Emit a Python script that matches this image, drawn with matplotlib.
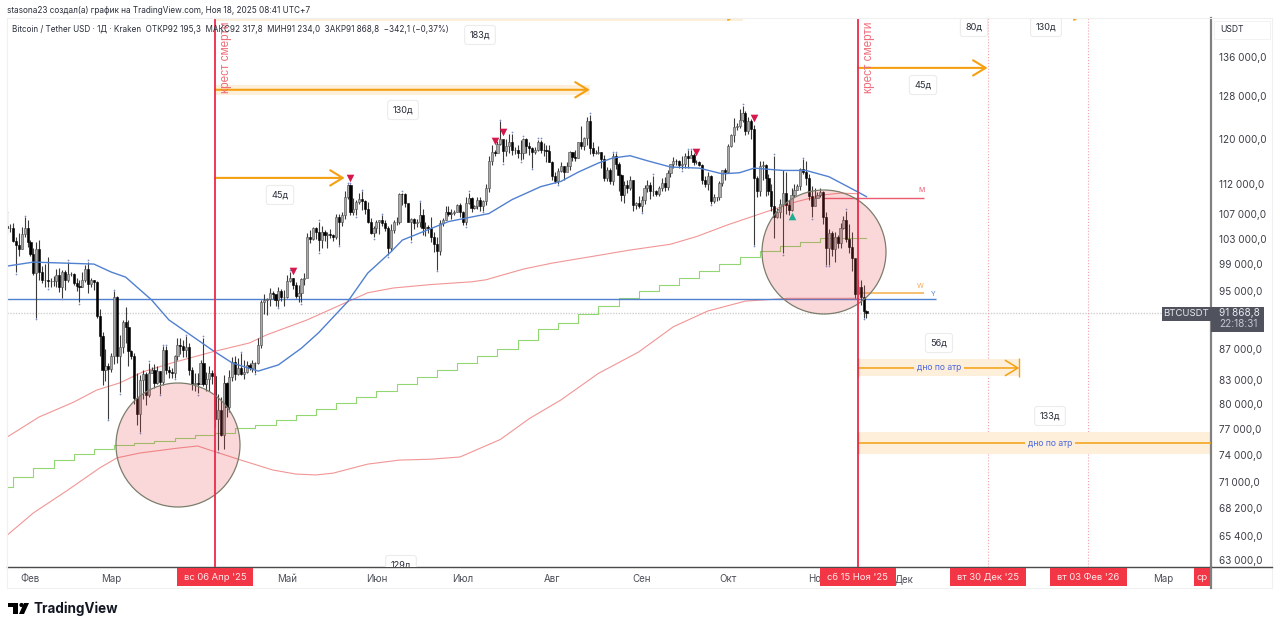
import matplotlib
matplotlib.use('Agg')
import matplotlib.pyplot as plt
import numpy as np
from matplotlib.patches import Circle, Rectangle, Polygon
from matplotlib.lines import Line2D
from matplotlib.ticker import NullLocator
from matplotlib.transforms import Affine2D

plt.rcParams['font.family'] = ['Inter', 'DejaVu Sans']

# daily candles, thousands of USDT, day 0 = 24 Jan 2025
first_open = 105.0
closes = [
    104.7, 104.7, 102.6, 102.0, 101.3, 103.7, 104.7, 102.4,
    100.6, 97.7, 101.4, 97.9, 96.6, 96.6, 96.5, 96.5, 96.5, 97.4, 95.7, 97.9, 96.6, 97.5, 97.6, 96.2,
    95.8, 95.6, 96.6, 98.3, 96.1, 96.6, 96.3, 91.5, 88.7, 84.3, 84.7, 84.4,
    86.0, 94.2, 86.1, 87.2, 90.6, 89.9, 86.7, 86.1, 80.7, 78.7, 82.9, 83.7, 81.1, 83.9, 84.3, 82.6,
    84.1, 82.7, 86.8, 84.2, 84.0, 83.8, 86.0, 87.5, 87.4, 86.9, 87.2, 84.3, 82.4, 82.6, 82.5,
    85.2, 82.5, 83.1, 83.8, 83.5, 78.2, 79.2, 76.3, 82.6, 79.6, 83.4, 85.3, 83.7, 84.5, 83.7, 84.0,
    84.9, 84.5, 85.1, 85.2, 87.5, 93.4, 93.7, 93.9, 94.7, 94.6, 93.7, 95.0, 94.2, 94.2,
    96.5, 96.9, 95.9, 94.3, 94.7, 96.8, 97.0, 103.2, 102.9, 104.6, 104.1, 102.8, 104.1, 103.5, 103.7,
    103.5, 103.2, 106.5, 105.6, 106.8, 109.7, 111.7, 107.3, 107.8, 108.9, 109.4, 109.0, 107.8, 105.6, 103.9, 104.6,
    105.7, 105.9, 105.4, 104.7, 101.5, 104.3, 105.6, 105.7, 110.3, 110.2, 108.7, 105.7, 106.1, 105.5, 105.6,
    106.8, 104.6, 104.9, 104.7, 103.3, 102.1, 101.0, 105.4, 106.0, 107.3, 106.9, 107.1, 107.3, 108.4, 107.2,
    105.7, 108.8, 109.6, 108.0, 108.2, 109.2, 108.3, 109.0, 111.3, 116.0, 117.5, 117.4, 119.1, 120.0, 117.7,
    118.7, 119.3, 117.9, 117.9, 117.3, 117.4, 119.9, 118.6, 118.3, 117.6, 117.9, 119.4, 118.0, 117.9, 117.8, 115.8,
    113.3, 112.5, 114.2, 115.1, 114.1, 115.0, 117.5, 116.7, 116.5, 119.3, 118.7, 120.2, 123.3, 118.3, 117.4,
    117.4, 117.5, 116.3, 112.9, 114.3, 112.5, 116.9, 115.4, 113.5, 110.1, 111.8, 111.2, 112.6, 108.4, 108.8, 108.2,
    109.2, 111.2, 111.7, 110.7, 110.7, 110.2, 111.2, 112.1, 111.5, 113.9, 115.5, 116.0, 115.9, 115.3, 115.4,
    116.8, 116.5, 117.1, 115.7, 115.7, 115.3, 112.7, 112.0, 113.3, 109.0, 109.7, 109.7, 112.1, 114.4, 114.0,
    118.6, 120.6, 122.2, 122.4, 123.5, 124.8, 121.4, 123.3, 121.7, 113.0, 110.8, 115.1, 115.3, 113.0, 110.8, 108.2,
    106.5, 107.2, 108.6, 110.5, 108.4, 107.6, 110.1, 111.0, 111.6, 114.5, 114.1, 112.9, 110.0, 108.3, 109.6,
    110.1, 110.6, 106.5, 101.5, 103.9, 101.3, 103.3, 102.3, 104.7, 106.0, 103.0, 101.7, 100.0, 94.6, 95.6, 94.2, 92.2, 91.869,
]
highs = [
    107.1, 105.3, 105.4, 103.2, 103.8, 104.8, 106.4, 106.0,
    102.8, 101.5, 102.5, 102.7, 98.8, 99.0, 100.1, 97.0, 97.3, 98.3, 98.5, 98.1, 98.1, 99.4, 97.9, 97.7,
    97.0, 96.7, 97.9, 98.9, 99.4, 96.9, 96.6, 96.5, 92.5, 89.3, 87.0, 85.1,
    86.5, 95.0, 94.4, 88.9, 91.0, 92.7, 91.0, 86.9, 86.4, 83.9, 83.6, 84.3, 84.0, 85.2, 84.6, 85.0,
    84.7, 84.1, 87.4, 87.4, 84.8, 84.5, 86.2, 88.5, 88.5, 88.2, 88.7, 87.8, 84.6, 83.8, 83.9,
    85.5, 88.5, 84.0, 84.7, 84.2, 83.8, 81.2, 80.8, 83.6, 82.7, 84.2, 85.9, 86.1, 85.8, 86.4, 85.5,
    85.4, 85.1, 85.6, 85.3, 88.5, 93.8, 94.6, 94.0, 95.5, 95.0, 94.4, 95.6, 95.4, 95.2,
    97.4, 97.9, 97.0, 96.3, 95.9, 97.0, 97.7, 103.8, 104.3, 104.9, 104.9, 105.7, 105.0, 104.3, 104.1,
    104.5, 103.7, 107.0, 107.0, 107.3, 110.7, 111.9, 111.9, 109.5, 109.3, 110.4, 110.7, 109.3, 108.9, 106.3, 105.0,
    105.9, 106.0, 106.8, 106.0, 105.0, 105.3, 106.0, 106.4, 110.4, 110.5, 110.4, 108.5, 106.2, 106.2, 106.1,
    108.9, 107.7, 105.6, 105.2, 106.5, 104.0, 103.3, 106.0, 106.3, 108.2, 108.3, 107.8, 107.6, 108.5, 108.8,
    107.5, 109.8, 110.5, 109.8, 108.4, 109.7, 109.8, 109.2, 111.9, 116.8, 118.9, 118.0, 119.5, 123.2, 119.6,
    120.0, 120.9, 120.9, 118.5, 118.9, 119.7, 120.2, 120.1, 119.4, 118.4, 118.5, 119.8, 119.8, 119.2, 118.8, 118.9,
    116.0, 114.0, 114.8, 115.7, 115.1, 115.7, 117.8, 117.6, 117.9, 119.3, 122.3, 120.3, 124.0, 124.5, 119.3,
    118.0, 118.6, 117.6, 117.0, 114.9, 114.8, 117.4, 117.4, 115.7, 113.7, 112.4, 112.7, 113.4, 112.7, 108.9, 110.0,
    109.9, 111.7, 112.6, 112.3, 113.4, 111.0, 111.6, 112.9, 113.2, 114.3, 115.4, 116.7, 116.3, 116.1, 116.8,
    117.3, 117.9, 117.9, 117.4, 116.2, 116.0, 115.4, 113.4, 114.0, 113.5, 110.3, 109.8, 112.4, 114.4, 114.8,
    119.0, 120.9, 123.9, 122.9, 125.6, 126.2, 125.1, 124.1, 123.7, 122.5, 113.4, 115.9, 116.0, 115.5, 113.6, 111.9,
    116.9, 107.9, 109.4, 114.3, 114.0, 109.2, 111.2, 112.0, 111.9, 114.8, 116.3, 116.0, 113.6, 111.6, 111.2,
    110.6, 111.3, 110.8, 107.3, 104.5, 104.2, 104.0, 103.6, 105.4, 106.6, 107.5, 105.3, 104.0, 99.0, 96.8, 96.6, 96.0, 92.318,
]
lows = [
    103.7, 104.1, 102.5, 97.8, 100.3, 101.3, 103.3, 101.6,
    100.3, 97.4, 91.2, 96.7, 96.2, 95.7, 95.6, 95.7, 95.8, 95.7, 94.9, 94.1, 95.2, 96.3, 97.2, 96.0,
    95.0, 93.4, 95.6, 96.4, 94.8, 95.7, 95.2, 91.2, 86.1, 82.3, 82.8, 78.2,
    84.0, 85.0, 85.1, 81.4, 86.4, 87.8, 84.7, 85.7, 80.0, 77.4, 76.6, 80.6, 79.9, 80.8, 83.9, 81.9,
    82.5, 81.2, 82.3, 83.7, 83.2, 83.2, 83.2, 85.5, 86.3, 85.9, 85.9, 83.6, 81.7, 81.6, 81.3,
    82.4, 82.2, 81.6, 81.6, 82.4, 77.2, 74.5, 76.2, 74.6, 78.4, 79.0, 82.8, 83.0, 83.6, 83.6, 83.1,
    83.9, 84.2, 84.0, 83.9, 85.0, 87.1, 91.8, 91.7, 92.9, 93.9, 92.9, 92.8, 93.6, 92.9,
    94.1, 96.3, 95.3, 94.0, 93.5, 93.4, 95.9, 97.3, 102.3, 102.7, 103.0, 101.0, 101.5, 102.6, 101.5,
    103.1, 102.6, 103.0, 102.0, 105.0, 106.1, 109.4, 106.8, 106.8, 106.7, 108.6, 107.6, 106.9, 105.4, 103.7, 103.2,
    103.8, 103.7, 105.0, 104.2, 100.4, 101.1, 103.9, 105.1, 105.3, 108.4, 108.1, 105.6, 102.7, 104.5, 104.9,
    104.9, 103.5, 103.4, 103.9, 102.4, 100.9, 98.2, 100.4, 105.0, 105.9, 106.6, 106.1, 106.8, 107.2, 106.5,
    105.2, 105.1, 108.6, 107.3, 107.8, 107.8, 107.5, 107.5, 108.4, 110.6, 115.2, 116.9, 117.3, 118.9, 115.7,
    116.9, 117.4, 117.0, 117.2, 116.5, 116.1, 116.3, 117.3, 117.1, 114.7, 117.2, 117.8, 117.4, 116.9, 115.8, 115.7,
    112.7, 112.1, 112.0, 114.1, 112.7, 114.3, 114.3, 115.9, 115.9, 116.5, 118.1, 117.9, 118.9, 117.2, 116.8,
    117.2, 117.2, 114.7, 112.4, 112.4, 111.9, 111.7, 114.6, 110.7, 109.0, 108.8, 110.4, 110.9, 107.4, 107.7, 108.0,
    107.3, 108.6, 110.6, 109.4, 110.0, 109.9, 110.0, 110.7, 110.7, 110.9, 113.2, 114.8, 115.2, 114.7, 114.5,
    114.7, 114.7, 116.7, 115.2, 115.4, 115.0, 111.9, 111.5, 111.0, 108.6, 108.7, 109.0, 109.2, 111.6, 112.7,
    113.9, 118.5, 119.3, 121.6, 122.0, 123.1, 120.6, 120.9, 119.9, 102.0, 109.7, 109.9, 112.7, 109.9, 110.1, 107.5,
    103.1, 106.3, 106.2, 100.7, 107.0, 106.7, 107.5, 109.7, 110.9, 111.0, 113.7, 111.8, 109.2, 106.4, 108.3,
    109.5, 109.7, 105.3, 98.9, 98.9, 100.3, 99.3, 101.5, 101.5, 104.5, 102.5, 100.8, 98.0, 94.0, 94.6, 93.0, 91.2, 91.234,
]

# moving averages: day, value
blue_days = [0, 9, 30, 36, 41, 50, 56, 71, 78, 87, 94, 102, 108, 118, 125, 133, 137, 147, 153, 167, 175, 185,
             192, 198, 205, 210, 216, 222, 230, 240, 248, 254, 259, 269, 277, 285, 295, 298]
blue_vals = [98.75, 99.35, 99.05, 97.85, 97.1, 93.77, 90.95, 86.86, 85.15, 84.1, 84.9, 87.1, 89.2, 93.5, 97.7,
             100.9, 102.75, 104.6, 105.7, 107.0, 109.3, 111.5, 112.4, 114.0, 115.6, 116.5, 116.9, 116.0, 114.9,
             114.7, 113.7, 113.9, 114.7, 114.3, 114.3, 113.2, 110.6, 109.8]
red_days = [0, 11, 23, 31, 39, 47, 57, 71, 84, 90, 104, 118, 125, 134, 147, 161, 166, 179, 189, 204, 216, 230,
            239, 250, 262, 274, 283, 289, 295]
red_vals = [76.05, 78.4, 80.2, 81.7, 82.6, 84.0, 85.15, 86.6, 87.8, 88.9, 90.95, 93.5, 94.8, 95.5, 96.0, 96.4,
            96.7, 98.3, 99.2, 100.3, 101.2, 102.1, 103.3, 105.2, 107.1, 109.0, 110.1, 110.4, 110.3]
low_red_days = [0, 9, 21, 32, 38, 46, 59, 66, 71, 81, 92, 100, 107, 113, 125, 136, 147, 157, 171, 181, 192, 205,
                219, 231, 243, 256, 271, 295]
low_red_vals = [65.46, 67.7, 70.12, 72.52, 73.65, 74.2, 74.75, 75.0, 74.45, 73.4, 72.3, 71.85, 71.75, 71.95,
                72.95, 73.4, 73.5, 73.75, 75.75, 78.2, 80.47, 83.8, 86.6, 90.0, 92.2, 93.6, 94.0, 94.0]
# weekly steps
green_vals = [71.53, 72.52, 73.4, 74.1, 74.66, 75.12, 75.35, 75.6, 75.9, 76.3, 76.45, 77.05, 77.45, 78.05, 78.65,
              79.37, 80.1, 80.85, 81.6, 82.5, 83.35, 84.25, 85.15, 86.05, 87.0, 88.2, 89.7, 90.5, 91.8, 92.9,
              94.05, 95.07, 95.95, 96.95, 98.0, 99.05, 100.1, 101.05, 101.8, 102.45, 103.1]
green_start = 70.44

sell_days = [99, 119, 169, 172, 239, 259]
sell_vals = [98.0, 113.0, 119.5, 121.3, 117.5, 123.8]
buy_days = [272]
buy_vals = [106.65]

level_y = 93.95
level_m = 109.6
level_w = 94.75
last_price = 91.869

death_cross = [72, 295]
dotted_days = [340, 375]

y_ticks = [136, 128, 120, 112, 107, 103, 99, 95, 87, 83, 80, 77, 74, 71, 68.2, 65.4, 63]
y_labels = ['136 000,0', '128 000,0', '120 000,0', '112 000,0', '107 000,0', '103 000,0', '99 000,0', '95 000,0',
            '87 000,0', '83 000,0', '80 000,0', '77 000,0', '74 000,0', '71 000,0', '68 200,0', '65 400,0', '63 000,0']
month_days = [8, 36, 97, 128, 158, 189, 220, 250, 281, 311, 401]
month_names = ['Фев', 'Мар', 'Май', 'Июн', 'Июл', 'Авг', 'Сен', 'Окт', 'Ноя', 'Дек', 'Мар']

orange = '#f5a011'
band = '#fdefd9'
red = '#ec2a4b'
blue = '#5080d0'
W, H = 1280, 630

fig = plt.figure(figsize=(W / 100, H / 100), dpi=100, facecolor='white')
ax = fig.add_axes([7 / W, 1 - 567 / H, 1204 / W, 549 / H])
px = Affine2D().scale(1 / W, -1 / H).translate(0, 1) + fig.transFigure  # picture pixels

ax.set_yscale('log')
ax.set_xlim(-0.14, 417.5)
ax.set_ylim(62.33, 144.3)

# candles
closes = np.array(closes)
highs = np.array(highs)
lows = np.array(lows)
opens = np.r_[first_open, closes[:-1]]
days = np.arange(len(closes))
up = closes >= opens
ax.vlines(days, lows, highs, color='#3a3a3a', lw=0.8, zorder=3)
ax.bar(days[up], (closes - opens)[up], bottom=opens[up], width=0.75, color='#a9a9a9',
       edgecolor='#4a4a4a', lw=0.4, zorder=4)
ax.bar(days[~up], (opens - closes)[~up], bottom=closes[~up], width=0.75, color='black',
       edgecolor='black', lw=0.4, zorder=4)

# little pivot dots over highs and lows
top = [i for i in days if highs[i] == highs[max(0, i - 3):i + 4].max()]
bot = [i for i in days if lows[i] == lows[max(0, i - 3):i + 4].min()]
ax.scatter(top, highs[top] * 1.002, s=1.6, color='#7d8fc7', lw=0, zorder=4)
ax.scatter(bot, lows[bot] * 0.998, s=1.6, color='#7d8fc7', lw=0, zorder=4)

# averages
ax.plot(blue_days, blue_vals, color=blue, lw=1.0, zorder=5)
ax.plot(red_days, red_vals, color='#f29595', lw=0.8, zorder=2)
ax.plot(low_red_days, low_red_vals, color='#f29595', lw=0.8, zorder=2)
green_x = np.r_[0, 2 + 7 * np.arange(len(green_vals)), 298]
green_y = np.r_[green_start, green_vals, green_vals[-1]]
ax.step(green_x, green_y, where='post', color='#93d674', lw=0.8, zorder=2)

# horizontal levels
ax.hlines(level_y, -0.14, 322, color=blue, lw=1.0, zorder=2)
ax.hlines(level_m, 283, 318, color='#ec5a70', lw=1.0, zorder=2)
ax.hlines(level_w, 295, 318, color='#f7bb66', lw=1.3, zorder=2)
ax.hlines(last_price, -0.14, 400, color='#d0d0d0', lw=1.0, linestyles=(0, (1, 1)), zorder=1)
ax.text(318, level_m * 1.008, 'M', color='#ec5a70', fontsize=5, ha='right', va='bottom')
ax.text(318, level_w * 1.006, 'W', color='#f5a94f', fontsize=5, ha='right', va='bottom')
ax.text(322, level_y * 1.003, 'Y', color=blue, fontsize=5, ha='right', va='bottom')

# circles and markers
for cx, cy in [(178, 445), (824, 252)]:
    ax.add_patch(Circle((cx, cy), 62, transform=px, facecolor=(0.9, 0.25, 0.28, 0.2),
                        edgecolor='#7a7d6b', lw=0.9, zorder=6))
ax.scatter(sell_days, sell_vals, marker='v', s=30, color='#d6174a', lw=0, zorder=7)
ax.scatter(buy_days, buy_vals, marker='^', s=30, color='#22ab94', lw=0, zorder=7)

# vertical lines
for d in death_cross:
    ax.axvline(d, color=red, lw=1.3, zorder=8)
    ax.text(d + 3.9, 143.5, 'крест смерти', rotation=90, color='#ef6a78', fontsize=8.5, ha='center', va='top',
            family=['Liberation Sans'], zorder=8)
for d in dotted_days:
    ax.axvline(d, color='#f0a5ad', lw=0.8, ls=':', zorder=1)


def arrow(d0, d1, val, lw=1.5):
    a = ax.annotate('', xy=(d1, val), xytext=(d0, val), annotation_clip=False,
                    arrowprops=dict(arrowstyle='->,head_length=0.9,head_width=0.55', color=orange, lw=lw,
                                    shrinkA=0, shrinkB=0, mutation_scale=10), zorder=7)
    a.arrow_patch.set_clip_box(ax.bbox)


# bands under the arrows
ax.fill_between([72, 202], 128.3, 130.3, color=band, lw=0, zorder=1)
ax.fill_between([72, 255], 143.7, 145, color=band, lw=0, zorder=1)
ax.fill_between([295, 351], 83.45, 85.7, color=band, lw=0, zorder=1)
ax.fill_between([295, 417.5], 74.1, 76.6, color=band, lw=0, zorder=1)
arrow(72, 202, 129.3)
arrow(72, 117, 113.0)
arrow(295, 340, 133.7)
arrow(72, 255, 145.6)
arrow(295, 375, 145.6)
arrow(295, 351, 84.5, lw=1.1)
ax.hlines(75.35, 295, 417.5, color=orange, lw=1.1, zorder=7)
ax.vlines(351, 83.3, 85.8, color=orange, lw=1.0, zorder=7)
ax.vlines([295, 295], [83.3, 74.1], [85.8, 76.6], color=orange, lw=1.0, zorder=7)

for x, y in [(939, 368), (1050, 444)]:
    fig.text(x / W, 1 - y / H, 'дно по атр', color='#4d66e0', fontsize=6.2, ha='center', va='center', zorder=9,
             bbox=dict(facecolor=band, edgecolor='none', pad=2.0))

# duration labels
box = dict(boxstyle='round,pad=0.55,rounding_size=0.3', facecolor='white', edgecolor='#ececec', lw=0.8)
dur = [('130д', 403, 110), ('45д', 280, 195), ('183д', 480, 35), ('80д', 974, 27), ('130д', 1046, 27),
       ('45д', 923, 85), ('56д', 939, 343), ('133д', 1050, 416), ('129д', 401, 565)]
for s, x, y in dur:
    t = ax.text(x, y, s, transform=px, fontsize=6.6, color='#2a2e39', ha='center', va='center', bbox=box, zorder=9,
                clip_on=True)

# axes cosmetics
for s in ['top']:
    ax.spines[s].set_visible(False)
ax.spines['left'].set_color('#eeeeee')
ax.spines['bottom'].set_color('#4a4a4a')
ax.spines['bottom'].set_linewidth(1.0)
ax.spines['right'].set_color('#808080')
ax.spines['right'].set_linewidth(1.6)
ax.yaxis.tick_right()
ax.set_yticks(y_ticks)
ax.set_yticklabels(y_labels)
ax.yaxis.set_minor_locator(NullLocator())
ax.set_xticks(month_days)
ax.set_xticklabels(month_names)
ax.tick_params(axis='y', length=0, pad=6, labelsize=7.2, labelcolor='#3c3f48')
ax.tick_params(axis='x', length=0, pad=5, labelsize=7, labelcolor='#4c4f58')

fig.add_artist(Line2D([1211, 1272], [567, 567], transform=px, color='#4a4a4a', lw=1.0))
fig.add_artist(Rectangle((7, 18), 1265, 570, transform=px, fill=False, edgecolor='#f0f0f0', lw=0.8))
fig.add_artist(Line2D([1211, 1211], [567, 588], transform=px, color='#808080', lw=1.6))

# red date boxes under the vertical lines
xax = ax.get_xaxis_transform()
for d, s in [(72, "вс 06 Апр '25"), (295, "сб 15 Ноя '25"), (340, "вт 30 Дек '25"), (375, "вт 03 Фев '26")]:
    ax.add_patch(Rectangle((d - 13.2, -19 / 549), 26.4, 18 / 549, transform=xax, facecolor='#f23645', lw=0,
                           clip_on=False, zorder=10))
    ax.text(d, -10 / 549, s, transform=xax, color='#ffe8ea', fontsize=6.8, ha='center', va='center', zorder=11)
ax.add_patch(Rectangle((411.6, -19 / 549), 5.9, 18 / 549, transform=xax, facecolor='#f23645', lw=0,
                       clip_on=False, zorder=10))
ax.text(412.5, -10 / 549, 'ср', transform=xax, color='#ffe8ea', fontsize=6.8, ha='left', va='center', zorder=11)

# price scale boxes
fig.add_artist(Rectangle((1162, 307), 49, 14, transform=px, facecolor='#50535e', lw=0))
fig.add_artist(Rectangle((1211, 307), 53, 25, transform=px, facecolor='#50535e', lw=0))
fig.text(1186.5 / W, 1 - 314 / H, 'BTCUSDT', color='#e8e9ee', fontsize=6.9, ha='center', va='center')
fig.text(1219 / W, 1 - 313.5 / H, '91 868,8', color='#e8e9ee', fontsize=7.2, ha='left', va='center')
fig.text(1219 / W, 1 - 324.5 / H, '22:18:31', color='#c5c7cf', fontsize=7.2, ha='left', va='center')
fig.add_artist(Rectangle((1214, 21), 56, 18, transform=px, fill=False, edgecolor='#f2f2f2', lw=0.7))
fig.text(1220 / W, 1 - 30 / H, 'USDT', color='#2a2e39', fontsize=6.2, ha='left', va='center')

# header text
fig.text(7 / W, 1 - 10.5 / H, 'stasona23 создал(а) график на TradingView.com, Ноя 18, 2025 08:41 UTC+7', color='#2a2e39',
         fontsize=5.9, ha='left', va='center')
fig.text(12.5 / W, 1 - 29 / H, 'Bitcoin / Tether USD · 1Д · Kraken  ОТКР92 195,3  МАКС92 317,8  МИН91 234,0  '
         'ЗАКР91 868,8  −342,1 (−0,37%)', color='#2a2e39', fontsize=5.85, ha='left', va='center', zorder=12)

# TradingView mark
fig.add_artist(Polygon([(8, 603), (18, 603), (18, 614), (13, 614), (13, 607), (8, 607)], transform=px,
                       facecolor='black', lw=0))
fig.add_artist(Circle((21.5, 605), 2.1, transform=px, facecolor='black', lw=0))
fig.add_artist(Polygon([(24, 603), (29, 603), (24, 614), (19, 614)], transform=px, facecolor='black', lw=0))
fig.text(34 / W, 1 - 609 / H, 'TradingView', color='#131722', fontsize=9.7, fontweight='bold', ha='left',
         va='center')

fig.savefig('out.png', dpi=100)
